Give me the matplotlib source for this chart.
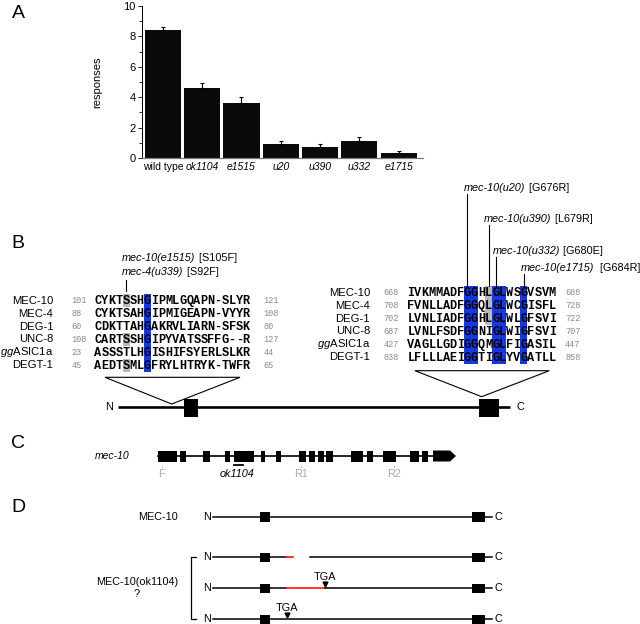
import matplotlib.pyplot as plt
from matplotlib.patches import Rectangle, Polygon

plt.rcParams['font.family'] = ['Liberation Sans', 'DejaVu Sans']
plt.rcParams['mathtext.fontset'] = 'custom'
plt.rcParams['mathtext.it'] = 'Liberation Sans:italic'
plt.rcParams['mathtext.rm'] = 'Liberation Sans'

# panel A data
strains = ['wild type', 'ok1104', 'e1515', 'u20', 'u390', 'u332', 'e1715']
responses = [8.45, 4.6, 3.65, 0.9, 0.72, 1.15, 0.33]
sem = [0.2, 0.35, 0.35, 0.2, 0.2, 0.24, 0.11]

# panel B alignments
proteins = ['MEC-10', 'MEC-4', 'DEG-1', 'UNC-8', '$\\mathit{gg}$ASIC1a', 'DEGT-1']
n_start = [101, 88, 60, 108, 23, 45]
n_end = [121, 108, 80, 127, 44, 65]
n_seqs = ['CYKTSSHGIPMLGQAPN-SLYR',
          'CYKTSAHGIPMIGEAPN-VYYR',
          'CDKTTAHGAKRVLIARN-SFSK',
          'CARTSSHGIPYVATSSFFG--R',
          'ASSSTLHGISHIFSYERLSLKR',
          'AEDTSMLGFRYLHTRYK-TWFR']
c_start = [668, 708, 702, 687, 427, 838]
c_end = [688, 728, 722, 707, 447, 858]
c_seqs = ['IVKMMADFGGHLGLWSGVSVM',
          'FVNLLADFGGQLGLWCGISFL',
          'LVNLIADFGGHLGLWLGFSVI',
          'LVNLFSDFGGNIGLWIGFSVI',
          'VAGLLGDIGGQMGLFIGASIL',
          'LFLLLAEIGGTIGLYVGATLL']
n_blue = [7]
n_grey = [(0, 4), (3, 4), (5, 4)]
c_blue = [8, 9, 12, 13, 16]
c_grey = [(0, 11), (1, 11), (2, 11)]
n_mutants = [('mec-10(e1515)', ' [S105F]'), ('mec-4(u339)', ' [S92F]')]
c_mutants = [('mec-10(u20)', ' [G676R]', 8),
             ('mec-10(u390)', ' [L679R]', 11),
             ('mec-10(u332)', ' [G680E]', 12),
             ('mec-10(e1715)', '  [G684R]', 16)]

# panel C gene model (exon spans along the gene, px)
exons = [(157.5, 177), (180, 186), (203, 210), (225, 230), (234, 254), (261, 265),
         (276, 281), (299, 306), (309, 315), (318, 324), (326, 333), (351, 362.5),
         (367, 373), (383, 396), (410, 419), (422, 428)]
primers = [('F', 161.7), ('R1', 301), ('R2', 394)]

BLUE = '#1438e6'
GREY = '#b8b8b8'
CW = 7.07    # alignment column width
RH = 12.93   # alignment row height

fig = plt.figure(figsize=(6.4, 6.24), dpi=100)
ov = fig.add_axes([0, 0, 1, 1])
ov.set_xlim(0, 640)
ov.set_ylim(624, 0)
ov.axis('off')


def mixed(x, y, it, rm, size=7.8):
    t = ov.text(x, y, it, style='italic', fontsize=size, va='center', ha='left')
    ov.annotate(rm, xy=(1, 0.5), xycoords=t, va='center', ha='left', fontsize=size)


def alignment(x0, y0, seqs, starts, ends, blue, grey, name_x, num_x, end_x):
    nrow = len(seqs)
    top = y0 - 7
    bot = y0 + (nrow - 1) * RH + 6.5
    for c in blue:
        ov.add_patch(Rectangle((x0 + c * CW, top), CW, bot - top, color=BLUE, lw=0, zorder=1))
    for r, c in grey:
        ov.add_patch(Rectangle((x0 + c * CW, y0 + r * RH - RH / 2), CW, RH,
                               color=GREY, lw=0, zorder=1))
    for r, seq in enumerate(seqs):
        y = y0 + r * RH
        ov.text(name_x, y, proteins[r], ha='right', va='center', fontsize=8.1)
        ov.text(num_x, y, str(starts[r]), ha='left', va='center', fontsize=6.2,
                family='Liberation Mono', color='#8a8a8a')
        ov.text(end_x, y, str(ends[r]), ha='left', va='center', fontsize=6.2,
                family='Liberation Mono', color='#8a8a8a')
        for i, ch in enumerate(seq):
            ov.text(x0 + (i + 0.5) * CW, y + 0.5, ch, ha='center', va='center',
                    fontsize=8.6, family='Liberation Mono', weight='bold', zorder=3)


# ---- panel letters
for lab, x, y in [('A', 18, 13), ('B', 18, 244), ('C', 18, 443), ('D', 18, 507)]:
    ov.text(x, y, lab, fontsize=14, ha='center', va='center')

# ---- panel B
alignment(94.3, 300.7, n_seqs, n_start, n_end, n_blue, n_grey, 53.3, 71.7, 263.3)
alignment(407.3, 292.7, c_seqs, c_start, c_end, c_blue, c_grey, 370, 383.3, 565)

mixed(122.3, 257.7, *n_mutants[0])
mixed(122.3, 272.3, *n_mutants[1])
ov.plot([94.3 + 4.5 * CW] * 2, [280, 290.5], color='k', lw=0.8)

label_xy = [(464.3, 188.3), (484.3, 219.3), (492.7, 250.7), (520.7, 268.3)]
for (it, rm, col), (lx, ly) in zip(c_mutants, label_xy):
    mixed(lx, ly, it, rm)
    ov.plot([407.3 + (col + 0.5) * CW] * 2, [ly + 6, 285.5], color='k', lw=0.8)

ov.add_patch(Polygon([(105, 377.3), (240, 377.3), (171.7, 404)], closed=True,
                     fill=False, lw=0.8, ec='k'))
ov.add_patch(Polygon([(415, 370.7), (549.3, 370.7), (481.7, 396.7)], closed=True,
                     fill=False, lw=0.8, ec='k'))
ov.plot([118, 510], [406.7, 406.7], color='k', lw=1.9, solid_capstyle='butt')
ov.add_patch(Rectangle((184, 398.7), 14.3, 18, color='k', lw=0))
ov.add_patch(Rectangle((479, 398.7), 20.3, 18, color='k', lw=0))
ov.text(109, 407, 'N', ha='center', va='center', fontsize=7.8)
ov.text(520, 407, 'C', ha='center', va='center', fontsize=7.8)

# ---- panel C
gy = 456
ov.text(112.5, gy, 'mec-10', style='italic', ha='center', va='center', fontsize=7.5)
ov.plot([157.5, 450], [gy, gy], color='k', lw=1.2)
for a, b in exons:
    ov.add_patch(Rectangle((a, gy - 5.5), b - a, 11, color='k', lw=0))
ov.add_patch(Polygon([(433, gy - 5.5), (450, gy - 5.5), (456, gy), (450, gy + 5.5),
                      (433, gy + 5.5)], closed=True, color='k', lw=0))
for name, x in primers:
    ov.text(x, 474, name, ha='center', va='center', fontsize=7.8, color='#a8a8a8')
    ov.plot([x, x], [465.5, 467], color='#a8a8a8', lw=0.6)
ov.text(237.5, 474, 'ok1104', style='italic', ha='center', va='center', fontsize=7.8)
ov.plot([234, 243], [464.5, 464.5], color='k', lw=1.3)

# ---- panel D
rows = [517, 557.3, 588.3, 619.3]


def protein_row(y):
    ov.text(207, y, 'N', ha='center', va='center', fontsize=7.8)
    ov.text(498.5, y, 'C', ha='center', va='center', fontsize=7.8)
    ov.add_patch(Rectangle((260.4, y - 4.6), 9.6, 9.2, color='k', lw=0, zorder=3))
    ov.add_patch(Rectangle((472, y - 4.6), 13.4, 9.2, color='k', lw=0, zorder=3))


ov.text(158, rows[0], 'MEC-10', ha='center', va='center', fontsize=7.8)
protein_row(rows[0])
ov.plot([212.5, 492], [rows[0]] * 2, color='k', lw=1.1)

protein_row(rows[1])
ov.plot([212.5, 285.8], [rows[1]] * 2, color='k', lw=1.1)
ov.plot([285.8, 292.5], [rows[1]] * 2, color='red', lw=1.1)
ov.plot([310.4, 492], [rows[1]] * 2, color='k', lw=1.1)

protein_row(rows[2])
ov.plot([212.5, 285.8], [rows[2]] * 2, color='k', lw=1.1)
ov.plot([285.8, 325], [rows[2]] * 2, color='red', lw=1.1)
ov.plot([325, 492], [rows[2]] * 2, color='k', lw=1.1)
ov.text(325.4, 577, 'TGA', ha='center', va='center', fontsize=7.8)
ov.plot([325.4], [583.5], marker='v', color='k', ms=3.5)

protein_row(rows[3])
ov.plot([212.5, 492], [rows[3]] * 2, color='k', lw=1.1)
ov.text(286.7, 608, 'TGA', ha='center', va='center', fontsize=7.8)
ov.plot([286.7], [614.5], marker='v', color='k', ms=3.5)

ov.plot([196, 191, 191, 196], [rows[1], rows[1], rows[3], rows[3]], color='k', lw=0.9)
ov.text(136.7, 582, 'MEC-10(ok1104)', ha='center', va='center', fontsize=7.8)
ov.text(136.7, 594, '?', ha='center', va='center', fontsize=7.8)

# ---- panel A
ax = fig.add_axes([142 / 640, 1 - 158 / 624, 281 / 640, 152 / 624])
ax.patch.set_alpha(0)
xs = range(len(strains))
ax.bar(xs, responses, width=0.92, color='#0a0a0a')
ax.errorbar(xs, responses, yerr=[[0] * len(sem), sem], fmt='none', ecolor='k',
            elinewidth=0.8, capsize=1.5, capthick=0.8)
ax.set_xlim(-0.53, 6.62)
ax.set_ylim(0, 10)
ax.set_yticks([0, 2, 4, 6, 8, 10])
ax.set_yticks([1, 3, 5, 7, 9], minor=True)
ax.set_xticks(list(xs))
ax.set_xticklabels(strains, fontsize=7.5)
for t in ax.get_xticklabels()[1:]:
    t.set_style('italic')
ax.tick_params(axis='y', labelsize=8, length=3, width=0.6, pad=1.5)
ax.tick_params(axis='y', which='minor', length=2, width=0.6)
ax.tick_params(axis='x', length=0, pad=3)
ax.spines['top'].set_visible(False)
ax.spines['right'].set_visible(False)
ax.spines['left'].set_linewidth(0.7)
ax.spines['bottom'].set_linewidth(0.9)
ax.spines['bottom'].set_color('#777777')
ax.set_ylabel('responses', fontsize=8, labelpad=15)

fig.savefig('out.png', dpi=100)
